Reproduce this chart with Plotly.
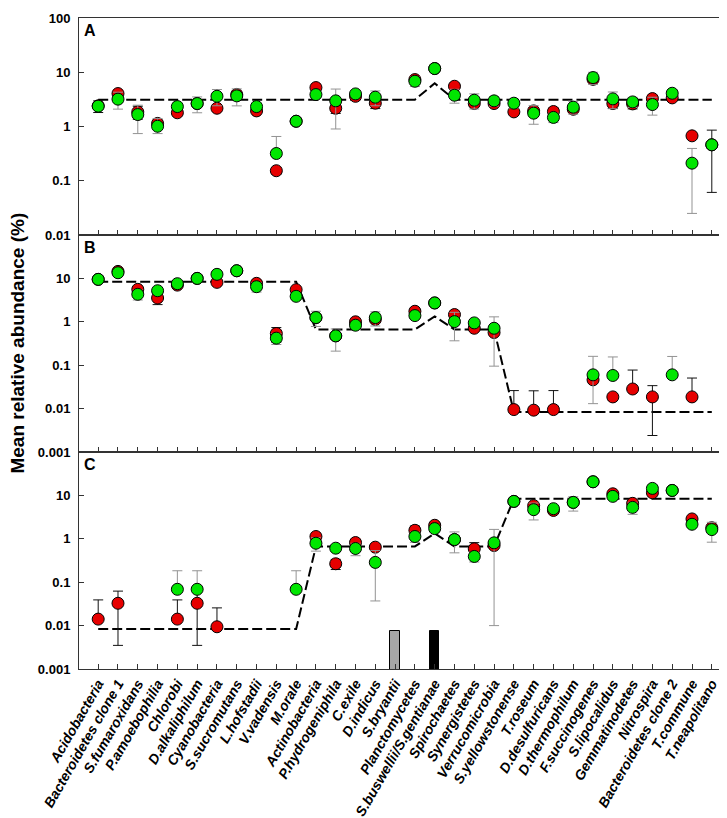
import plotly.graph_objects as go
from plotly.subplots import make_subplots

categories = ["Acidobacteria", "Bacteroidetes clone 1", "S.fumaroxidans", "P.amoebophilia", "Chlorobi",
              "D.alkaliphilum", "Cyanobacteria", "S.sucromutans", "L.hofstadii", "V.vadensis", "M.orale",
              "Actinobacteria", "P.hydrogeniphila", "C.exile", "D.indicus", "S.bryantii", "Planctomycetes",
              "S.buswellii/S.gentianae", "Spirochaetes", "Synergistetes", "Verrucomicrobia", "S.yellowstonense",
              "T.roseum", "D.desulfuricans", "D.thermophilum", "F.succinogenes", "S.lipocalidus",
              "Gemmatinodetes", "Nitrospira", "Bacteroidetes clone 2", "T.commune", "T.neapolitano"]

# ---------------- Panel A ----------------
red_A = [2.4, 4.05, 1.86, 1.14, 1.79, 2.65, 2.17, 3.9, 1.94, 0.153, 1.25, 5.22, 2.17, 3.6, 2.69, None,
         7.33, 11.7, 5.52, 2.65, 2.65, 1.86, 1.94, 1.89, 2.08, 7.4, 2.65, 2.61, 3.27, 3.37, 0.673, 0.46]
red_A_up = [0.57, 0.3, 0.5, 0.15, 0.15, 0.3, 0.2, 0.3, 0.12, 0.02, 0.1, 0.4, 0.43, 0.3, 0.55, 0,
            0.5, 0.8, 0.5, 0.3, 0.3, 0.2, 0.3, 0.3, 0.2, 0.5, 0.5, 0.5, 0.3, 0.3, 0.05, 0.397]
red_A_dn = [0.59, 0.3, 0.5, 0.15, 0.15, 0.3, 0.2, 0.3, 0.12, 0.02, 0.1, 0.4, 0.43, 0.3, 0.55, 0,
            0.5, 0.8, 0.5, 0.3, 0.3, 0.2, 0.3, 0.3, 0.2, 0.5, 0.5, 0.5, 0.3, 0.3, 0.05, 0.399]
green_A = [2.37, 3.19, 1.66, 1.01, 2.33, 2.65, 3.61, 3.67, 2.33, 0.318, 1.25, 3.88, 2.97, 3.99, 3.47, None,
           6.82, 11.7, 3.77, 3.05, 2.97, 2.69, 1.76, 1.47, 2.27, 7.98, 3.23, 2.84, 2.54, 4.1, 0.211, 0.46]
green_A_up = [0.2, 1.1, 0.81, 0.39, 0.2, 0.86, 1.2, 1.27, 0.2, 0.337, 0.1, 0.4, 1.93, 0.3, 1.06, 0,
              1.37, 0.8, 1.08, 0.95, 0.6, 0.5, 0.66, 0.29, 0.65, 2.0, 1.1, 0.6, 0.92, 0.7, 0.183, 0.05]
green_A_dn = [0.2, 1.1, 0.92, 0.27, 0.2, 0.86, 1.2, 1.27, 0.2, 0.0, 0.1, 0.4, 2.07, 0.3, 1.06, 0,
              1.37, 0.8, 1.08, 0.95, 0.6, 0.5, 0.66, 0.29, 0.58, 2.0, 1.1, 0.6, 0.92, 0.7, 0.186, 0.05]
expected_A = [3.125, 3.125, 3.125, 3.125, 3.125, 3.125, 3.125, 3.125, 3.125, 3.125, 3.125, 3.125, 3.125,
              3.125, 3.125, 3.125, 3.125, 6.25, 3.125, 3.125, 3.125, 3.125, 3.125, 3.125, 3.125, 3.125,
              3.125, 3.125, 3.125, 3.125, 3.125, 3.125]

# ---------------- Panel B ----------------
red_B = [9.5, 14.5, 5.6, 3.54, 7.0, 10.0, 8.1, 15.0, 7.7, 0.537, 5.5, 1.25, 0.474, 1.0, 1.13, None,
         1.75, 2.72, 1.47, 0.71, 0.566, 0.0095, 0.0092, 0.0095, None, 0.046, 0.0186, 0.0283, 0.0186, None,
         0.0186, None]
red_B_up = [0.8, 1.0, 0.5, 1.05, 0.5, 0.8, 0.6, 1.0, 0.6, 0.2, 0.5, 0.1, 0.05, 0.1, 0.1, 0,
            0.2, 0.3, 0.15, 0.05, 0.05, 0.0165, 0.0165, 0.0165, 0, 0.005, 0.003, 0.049, 0.0152, 0, 0.032, 0]
red_B_dn = [0.8, 1.0, 0.5, 1.05, 0.5, 0.8, 0.6, 1.0, 0.6, 0.2, 0.5, 0.1, 0.05, 0.1, 0.1, 0,
            0.2, 0.3, 0.15, 0.05, 0.05, 0, 0, 0, 0, 0.005, 0.003, 0, 0.0162, 0, 0, 0]
green_B = [9.5, 13.5, 4.3, 5.2, 7.55, 10.0, 12.4, 15.0, 6.44, 0.42, 3.86, 1.25, 0.474, 0.834, 1.25, None,
           1.39, 2.72, 1.01, 0.944, 0.71, None, None, None, None, 0.060, 0.058, None, None, 0.060, None, None]
green_B_up = [0.8, 1.0, 1.12, 0.5, 0.5, 0.8, 0.8, 1.0, 1.6, 0.12, 0.5, 0.5, 0.21, 0.1, 0.45, 0,
              0.2, 0.3, 0.645, 0.1, 0.59, 0, 0, 0, 0, 0.1, 0.097, 0, 0, 0.099, 0, 0]
green_B_dn = [0.8, 1.0, 1.12, 0.5, 0.5, 0.8, 0.8, 1.0, 1.6, 0.12, 0.5, 0.47, 0.263, 0.1, 0.45, 0,
              0.2, 0.3, 0.645, 0.1, 0.615, 0, 0, 0, 0, 0.047, 0, 0, 0, 0, 0, 0]
expected_B = [8.333, 8.333, 8.333, 8.333, 8.333, 8.333, 8.333, 8.333, 8.333, 8.333, 8.333, 0.667, 0.667,
              0.667, 0.667, 0.667, 0.667, 1.333, 0.667, 0.667, 0.667, 0.00833, 0.00833, 0.00833, 0.00833,
              0.00833, 0.00833, 0.00833, 0.00833, 0.00833, 0.00833, 0.00833]

# ---------------- Panel C ----------------
red_C = [0.0141, 0.0327, None, None, 0.0141, 0.0327, 0.0094, None, None, None, None, 1.13, 0.266, 0.82,
         0.641, None, 1.57, 2.05, 0.96, 0.587, 0.70, 7.28, 5.8, 4.5, 6.9, 20.6, 10.9, 6.56, 11.5, 13.0,
         2.87, 1.8]
red_C_up = [0.025, 0.0296, 0, 0, 0.025, 0.0296, 0.0162, 0, 0, 0, 0, 0.1, 0.07, 0.1, 0.1, 0,
            0.4, 0.3, 0.1, 0.23, 0.1, 0.5, 0.6, 0.5, 0.5, 1.5, 1.0, 0.6, 1.0, 1.0, 0.3, 0.3]
red_C_dn = [0, 0.0292, 0, 0, 0, 0.0292, 0, 0, 0, 0, 0, 0.1, 0.07, 0.1, 0.1, 0,
            0.4, 0.3, 0.1, 0.23, 0.1, 0.5, 0.6, 0.5, 0.5, 1.5, 1.0, 0.6, 1.0, 1.0, 0.3, 0.3]
green_C = [None, None, None, None, 0.0686, 0.0686, None, None, None, None, 0.0686, 0.79, 0.608, 0.598,
           0.286, None, 1.13, 1.72, 0.96, 0.392, 0.807, 7.28, 4.69, 4.94, 6.9, 20.6, 9.5, 5.3, 14.5, 13.0,
           2.16, 1.63]
green_C_up = [0, 0, 0, 0, 0.115, 0.115, 0, 0, 0, 0, 0.115, 0.27, 0.1, 0.19, 0.25, 0,
              0.3, 0.3, 0.48, 0.1, 0.84, 0.5, 1.97, 0.5, 2.4, 1.5, 1.0, 1.64, 1.0, 1.0, 0.3, 0.77]
green_C_dn = [0, 0, 0, 0, 0, 0, 0, 0, 0, 0, 0, 0.27, 0.1, 0.19, 0.249, 0,
              0.3, 0.3, 0.485, 0.1, 0.797, 0.5, 1.97, 0.5, 2.55, 1.5, 1.0, 1.64, 1.0, 1.0, 0.3, 0.795]
expected_C = [0.00833, 0.00833, 0.00833, 0.00833, 0.00833, 0.00833, 0.00833, 0.00833, 0.00833, 0.00833,
              0.00833, 0.667, 0.667, 0.667, 0.667, 0.667, 0.667, 1.333, 0.667, 0.667, 0.667, 8.333, 8.333,
              8.333, 8.333, 8.333, 8.333, 8.333, 8.333, 8.333, 8.333, 8.333]

# marker bars in panel C
bar_categories = ["S.bryantii", "S.buswellii/S.gentianae"]
bar_values = [0.0075, 0.0075]
bar_colors = ["#a6a6a6", "#000000"]

RED = "#e60000"
GREEN = "#00e600"
ERR_RED = "#111111"
ERR_GREEN = "#939393"

fig = make_subplots(rows=3, cols=1, shared_xaxes=True, vertical_spacing=0)

panels = [
    (1, red_A, red_A_up, red_A_dn, green_A, green_A_up, green_A_dn, expected_A),
    (2, red_B, red_B_up, red_B_dn, green_B, green_B_up, green_B_dn, expected_B),
    (3, red_C, red_C_up, red_C_dn, green_C, green_C_up, green_C_dn, expected_C),
]

for row, rv, ru, rd, gv, gu, gd, ev in panels:
    fig.add_trace(go.Scatter(x=categories, y=ev, mode="lines",
                             line=dict(color="black", width=2, dash="10px,4px"),
                             showlegend=False, hoverinfo="skip"), row=row, col=1)
    fig.add_trace(go.Scatter(x=categories, y=rv, mode="markers",
                             marker=dict(color=RED, size=12, line=dict(color="black", width=1)),
                             error_y=dict(type="data", symmetric=False, array=ru, arrayminus=rd,
                                          color=ERR_RED, thickness=1, width=5),
                             showlegend=False), row=row, col=1)
    fig.add_trace(go.Scatter(x=categories, y=gv, mode="markers",
                             marker=dict(color=GREEN, size=12, line=dict(color="black", width=1)),
                             error_y=dict(type="data", symmetric=False, array=gu, arrayminus=gd,
                                          color=ERR_GREEN, thickness=1, width=5),
                             showlegend=False), row=row, col=1)

fig.add_trace(go.Bar(x=bar_categories, y=bar_values, width=0.47,
                     marker=dict(color=bar_colors, line=dict(color="black", width=1)),
                     showlegend=False, hoverinfo="skip"), row=3, col=1)

tick_font = dict(family="Liberation Sans Narrow, Liberation Sans, Arial, sans-serif", size=13,
                 color="black", weight="bold")
label_font = dict(family="Liberation Sans, Arial, sans-serif", size=14, color="black",
                  weight="bold", style="italic")

for r in (1, 2, 3):
    fig.update_xaxes(row=r, col=1, type="category", range=[-0.97, 31.97],
                     showline=True, linecolor="#333333", linewidth=1, mirror=True,
                     ticks="inside", ticklen=5, tickcolor="#333333", showgrid=False, zeroline=False)

fig.update_xaxes(row=3, col=1, showticklabels=True, tickangle=-60, tickfont=label_font)

yaxis_common = dict(type="log", showline=True, linecolor="#333333", linewidth=1, mirror=True,
                    ticks="inside", ticklen=5, tickcolor="#333333", showgrid=False, zeroline=False,
                    tickfont=tick_font, ticklabelstandoff=5)
fig.update_yaxes(row=1, col=1, range=[-2, 2], tickvals=[0.01, 0.1, 1, 10, 100],
                 ticktext=["0.01", "0.1", "1", "10", "100"], **yaxis_common)
fig.update_yaxes(row=2, col=1, range=[-3, 2], tickvals=[0.001, 0.01, 0.1, 1, 10],
                 ticktext=["0.001", "0.01", "0.1", "1", "10"], **yaxis_common)
fig.update_yaxes(row=3, col=1, range=[-3, 2], tickvals=[0.001, 0.01, 0.1, 1, 10],
                 ticktext=["0.001", "0.01", "0.1", "1", "10"], **yaxis_common)

letter_font = dict(family="Liberation Sans, Arial, sans-serif", size=16, color="black", weight="bold")
for letter, yref in (("A", "y domain"), ("B", "y2 domain"), ("C", "y3 domain")):
    fig.add_annotation(text=letter, xref="x domain", yref=yref, x=0.004, y=0.99,
                       xanchor="left", yanchor="top", showarrow=False, font=letter_font)

fig.add_annotation(text="Mean relative abundance (%)", xref="paper", yref="paper", x=-0.095, y=0.5,
                   textangle=-90, showarrow=False, xanchor="center", yanchor="middle",
                   font=dict(family="Liberation Sans, Arial, sans-serif", size=19, color="black",
                             weight="bold"))

fig.update_layout(width=727, height=818, margin=dict(l=71, r=3, t=8, b=157),
                  plot_bgcolor="white", paper_bgcolor="white", showlegend=False, bargap=0)

fig.write_html("out.html")
